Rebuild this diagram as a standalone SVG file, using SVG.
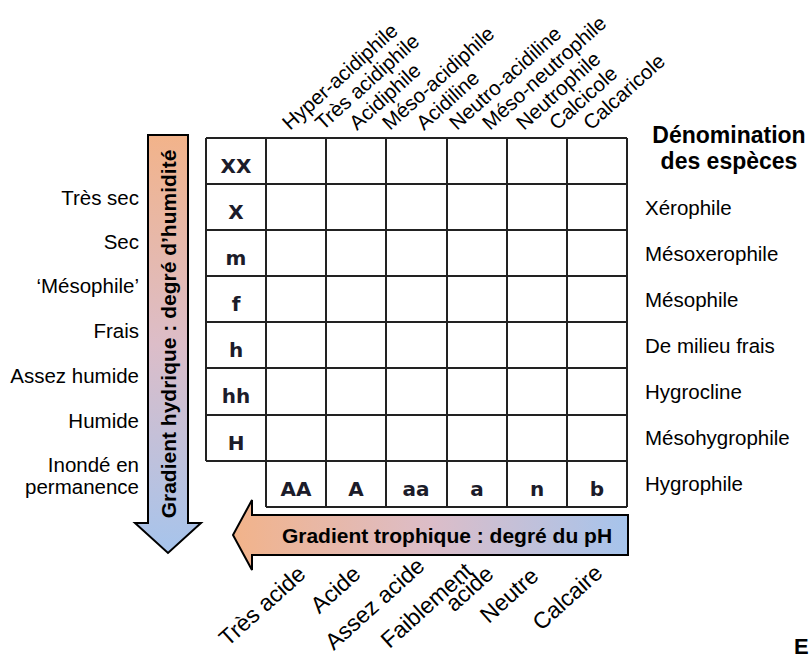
<svg xmlns="http://www.w3.org/2000/svg" width="811" height="657" viewBox="0 0 811 657">
<defs>
<linearGradient id="gv" x1="0" y1="0" x2="0" y2="1">
<stop offset="0" stop-color="#f2b38a"/>
<stop offset="0.5" stop-color="#dcbdc8"/>
<stop offset="1" stop-color="#a6c4ec"/>
</linearGradient>
<linearGradient id="gh" x1="0" y1="0" x2="1" y2="0">
<stop offset="0" stop-color="#f2b38a"/>
<stop offset="0.5" stop-color="#dcbdc8"/>
<stop offset="1" stop-color="#a6c4ec"/>
</linearGradient>
<style>
.t{font-family:"Liberation Sans",Arial,sans-serif;font-size:20.5px;fill:#000}
.r{font-family:"Liberation Sans",Arial,sans-serif;font-size:23px;fill:#000}
.b{font-family:"Liberation Sans",Arial,sans-serif;font-weight:bold;font-size:21px;fill:#000}
.c{font-family:"DejaVu Sans",Verdana,sans-serif;font-weight:bold;font-size:20px;fill:#1c1c2a;text-anchor:middle}
.g{stroke:#222;stroke-width:2;fill:none}
.arr{stroke:#000;stroke-width:2}
</style>
</defs>
<rect width="811" height="657" fill="#fff"/>

<g id="grid">
<path class="g" d="M206,138H627M206,184H627M206,230H627M206,276H627M206,322H627M206,368H627M206,415H627M206,461H627M266,507H627"/>
<path class="g" d="M206,138V461M266,138V507M326,138V507M386,138V507M447,138V507M507,138V507M567,138V507M627,138V507"/>
</g>

<g id="row-codes">
<text class="c" x="236" y="173">XX</text>
<text class="c" x="236" y="219">X</text>
<text class="c" x="236" y="265">m</text>
<text class="c" x="236" y="311">f</text>
<text class="c" x="236" y="357">h</text>
<text class="c" x="236" y="403">hh</text>
<text class="c" x="236" y="450">H</text>
</g>
<g id="col-codes">
<text class="c" x="296" y="496">AA</text>
<text class="c" x="356" y="496">A</text>
<text class="c" x="416" y="496">aa</text>
<text class="c" x="477" y="496">a</text>
<text class="c" x="537" y="496">n</text>
<text class="c" x="597" y="496">b</text>
</g>

<g id="connectors">
<path id="arrow-hydrique" class="arr" fill="url(#gv)" d="M148,135H188V523H201L168,553L135,523H148Z"/>
<path id="arrow-trophique" class="arr" fill="url(#gh)" d="M628,515V555H252V570L233,535L252,500V515Z"/>
</g>
<text class="b" transform="translate(175.5,334) rotate(-90)" text-anchor="middle">Gradient hydrique : degré d’humidité</text>
<text class="b" x="447" y="543" text-anchor="middle">Gradient trophique : degré du pH</text>

<g id="humidity-labels" class="t" text-anchor="end">
<text x="139" y="205">Très sec</text>
<text x="139" y="249">Sec</text>
<text x="139" y="293">‘Mésophile’</text>
<text x="139" y="338">Frais</text>
<text x="139" y="383">Assez humide</text>
<text x="139" y="428">Humide</text>
<text x="139" y="472">Inondé en</text>
<text x="139" y="494">permanence</text>
</g>

<g id="species-names">
<text class="b" style="font-size:23px" x="729" y="143" text-anchor="middle">Dénomination</text>
<text class="b" style="font-size:23px" x="729" y="169" text-anchor="middle">des espèces</text>
<g class="t">
<text x="645" y="215">Xérophile</text>
<text x="645" y="261">Mésoxerophile</text>
<text x="645" y="307">Mésophile</text>
<text x="645" y="353">De milieu frais</text>
<text x="645" y="399">Hygrocline</text>
<text x="645" y="445">Mésohygrophile</text>
<text x="645" y="491">Hygrophile</text>
</g>
</g>

<g id="ph-species" class="t">
<text transform="translate(290,131) rotate(-42)">Hyper-acidiphile</text>
<text transform="translate(323,131) rotate(-42)">Très acidiphile</text>
<text transform="translate(357,131) rotate(-42)">Acidiphile</text>
<text transform="translate(390,131) rotate(-42)">Méso-acidiphile</text>
<text transform="translate(424,131) rotate(-42)">Acidiline</text>
<text transform="translate(457,131) rotate(-42)">Neutro-acidiline</text>
<text transform="translate(490,131) rotate(-42)">Méso-neutrophile</text>
<text transform="translate(524,131) rotate(-42)">Neutrophile</text>
<text transform="translate(557,131) rotate(-42)">Calcicole</text>
<text transform="translate(591,131) rotate(-42)">Calcaricole</text>
</g>

<g id="ph-labels" class="r" text-anchor="end">
<text transform="translate(307,576) rotate(-42)">Très acide</text>
<text transform="translate(362,576) rotate(-42)">Acide</text>
<text transform="translate(426,568) rotate(-42)">Assez acide</text>
<text transform="translate(474,573) rotate(-42)">Faiblement</text>
<text transform="translate(495,576) rotate(-42)">acide</text>
<text transform="translate(540,578) rotate(-42)">Neutre</text>
<text transform="translate(604,575) rotate(-42)">Calcaire</text>
</g>

<text class="b" style="font-size:22px" x="794" y="654">E</text>
</svg>
